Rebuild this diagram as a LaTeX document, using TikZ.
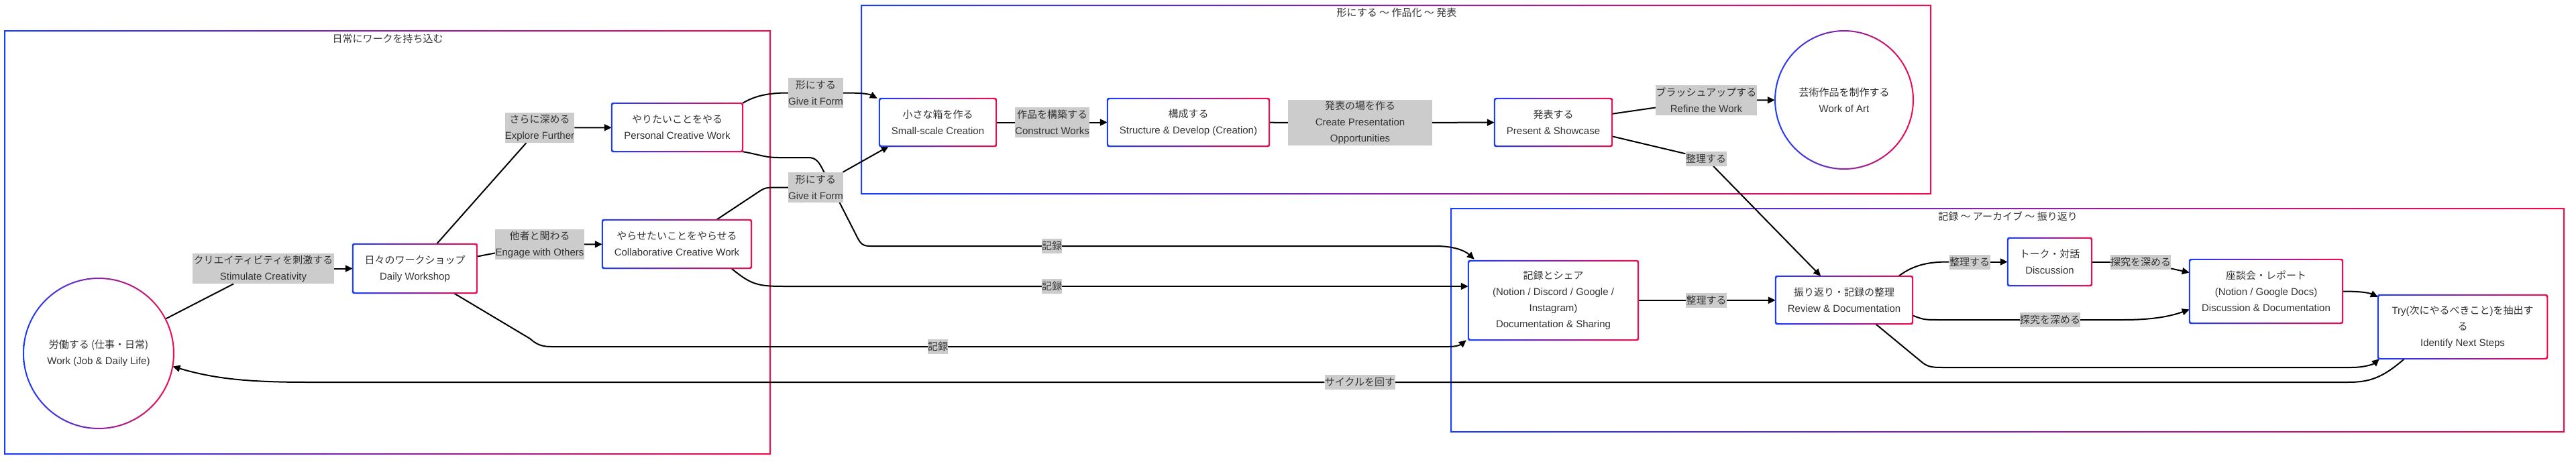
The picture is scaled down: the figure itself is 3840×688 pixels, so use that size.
\documentclass[tikz,border=0pt]{standalone}
\usepackage{fontspec}
\setmainfont{Liberation Sans}
\newfontfamily\jpfont{Noto Sans CJK JP}
\usetikzlibrary{arrows.meta,shadows}
\pgfdeclarelayer{back}
\pgfdeclarelayer{edges}
\pgfsetlayers{back,edges,main}
\definecolor{cblue}{RGB}{25,60,255}
\definecolor{cred}{RGB}{245,10,75}
\definecolor{lblgray}{RGB}{204,204,204}
\definecolor{txt}{RGB}{51,51,51}
\newcommand\J[1]{{\jpfont #1}}
\tikzset{
  base/.style={font=\fontsize{15}{24}\selectfont, text=txt, align=center, inner sep=0pt},
  box/.style={base, rectangle, rounded corners=3pt, fill=white, draw=none,
    drop shadow={shadow xshift=0pt, shadow yshift=-2pt, opacity=0.12}},
  circ/.style={base, circle, fill=white, draw=none,
    drop shadow={shadow xshift=0pt, shadow yshift=-2pt, opacity=0.12}},
  lbl/.style={base, rectangle, fill=lblgray},
  ttl/.style={base, text=txt},
  ln/.style={draw=black, line width=2pt},
  arr/.style={ln, -{Triangle[length=11pt,width=10pt]}},
  ring/.style={left color=cblue, right color=cred, even odd rule}
}
\begin{document}
\begin{tikzpicture}[x=1pt,y=-1pt]
\useasboundingbox (0,0) rectangle (3840,688);

% clusters
\begin{pgfonlayer}{back}
\shade[ring] (6,45) rectangle (1149,678) (8,47) rectangle (1147,676);
\shade[ring] (1283,7) rectangle (2879,290) (1285,9) rectangle (2877,288);
\shade[ring] (2162,310) rectangle (3823,645) (2164,312) rectangle (3821,643);
\end{pgfonlayer}
\node[ttl] (t1) at (578,58) {\J{日常にワークを持ち込む}};
\node[ttl] (t2) at (2082,19) {\J{形にする ～ 作品化 ～ 発表}};
\node[ttl] (t3) at (2993,323) {\J{記録 ～ アーカイブ ～ 振り返り}};

% nodes
\node[circ, minimum size=224pt] (work) at (147,527) {\J{労働する (仕事・日常)}\\Work (Job \& Daily Life)};
\node[box, minimum width=185pt, minimum height=73pt] (daily) at (618.5,400.5) {\J{日々のワークショップ}\\Daily Workshop};
\node[box, minimum width=195pt, minimum height=72pt] (personal) at (1009.5,190) {\J{やりたいことをやる}\\Personal Creative Work};
\node[box, minimum width=222pt, minimum height=72pt] (collab) at (1009,364) {\J{やらせたいことをやらせる}\\Collaborative Creative Work};
\node[box, minimum width=174pt, minimum height=71pt] (small) at (1398,182.5) {\J{小さな箱を作る}\\Small-scale Creation};
\node[box, minimum width=241pt, minimum height=71pt] (structure) at (1771.5,182.5) {\J{構成する}\\Structure \& Develop (Creation)};
\node[box, minimum width=175pt, minimum height=71pt] (present) at (2315.5,182.5) {\J{発表する}\\Present \& Showcase};
\node[circ, minimum size=206pt] (art) at (2749,149) {\J{芸術作品を制作する}\\Work of Art};
\node[box, minimum width=253pt, minimum height=118pt] (doc) at (2315.5,448) {\J{記録とシェア}\\(Notion / Discord / Google /\\Instagram)\\Documentation \& Sharing};
\node[box, minimum width=204pt, minimum height=71pt] (review) at (2749,447.5) {\J{振り返り・記録の整理}\\Review \& Documentation};
\node[box, minimum width=125pt, minimum height=71pt] (disc) at (3055.5,390.5) {\J{トーク・対話}\\Discussion};
\node[box, minimum width=228pt, minimum height=95pt] (dd) at (3378,434.5) {\J{座談会・レポート}\\(Notion / Google Docs)\\Discussion \& Documentation};
\node[box, minimum width=252pt, minimum height=95pt] (nextstep) at (3671,487.5) {Try(\J{次にやるべきこと})\J{を抽出す}\\\J{る}\\Identify Next Steps};

% gradient borders
\foreach \n in {daily,personal,collab,small,structure,present,doc,review,disc,dd,nextstep} {
  \shade[ring, rounded corners=3pt]
    ([shift={(-1pt,1pt)}]\n.north west) rectangle ([shift={(1pt,-1pt)}]\n.south east)
    ([shift={(1pt,-1pt)}]\n.north west) rectangle ([shift={(-1pt,1pt)}]\n.south east);
}
\shade[ring] (work.center) circle[radius=113pt] (work.center) circle[radius=111pt];
\shade[ring] (art.center) circle[radius=104pt] (art.center) circle[radius=102pt];

% edge labels
\node[lbl, minimum width=211pt, minimum height=45pt] (stim) at (392.5,400.5) {\J{クリエイティビティを刺激する}\\Stimulate Creativity};
\node[lbl, minimum width=103pt, minimum height=45pt] (explore) at (804.5,190.5) {\J{さらに深める}\\Explore Further};
\node[lbl, minimum width=133pt, minimum height=45pt] (engage) at (804.5,364.5) {\J{他者と関わる}\\Engage with Others};
\node[lbl, minimum width=82pt, minimum height=45pt] (gf1) at (1216,138.5) {\J{形にする}\\Give it Form};
\node[lbl, minimum width=82pt, minimum height=45pt] (gf2) at (1216,279.5) {\J{形にする}\\Give it Form};
\node[lbl, minimum width=111pt, minimum height=45pt] (construct) at (1568.5,182.5) {\J{作品を構築する}\\Construct Works};
\node[lbl, minimum width=215pt, minimum height=68pt] (cpo) at (2027.5,183) {\J{発表の場を作る}\\Create Presentation\\Opportunities};
\node[lbl, minimum width=151pt, minimum height=45pt] (refine) at (2543.5,149.5) {\J{ブラッシュアップする}\\Refine the Work};
\node[lbl, minimum width=61pt, minimum height=22pt] (org1) at (2543,236.5) {\J{整理する}};
\node[lbl, minimum width=61pt, minimum height=22pt] (org2) at (2543.5,448) {\J{整理する}};
\node[lbl, minimum width=61pt, minimum height=22pt] (org3) at (2936,390.5) {\J{整理する}};
\node[lbl, minimum width=90pt, minimum height=22pt] (deep1) at (3191,390.5) {\J{探究を深める}};
\node[lbl, minimum width=90pt, minimum height=22pt] (deep2) at (3056,477) {\J{探究を深める}};
\node[lbl, minimum width=30pt, minimum height=22pt] (rec1) at (1568,367) {\J{記録}};
\node[lbl, minimum width=30pt, minimum height=22pt] (rec2) at (1568,427) {\J{記録}};
\node[lbl, minimum width=30pt, minimum height=22pt] (rec3) at (1398,517) {\J{記録}};
\node[lbl, minimum width=105pt, minimum height=22pt] (cycle) at (2027,570) {\J{サイクルを回す}};

% edges
\begin{pgfonlayer}{edges}
\draw[ln] (work) -- (stim);
\draw[arr] (stim) -- (daily);
\draw[ln] (daily) -- (explore);
\draw[arr] (explore) -- (personal);
\draw[ln] (daily) -- (engage);
\draw[arr] (engage) -- (collab);
% personal -> small
\draw[ln] (personal.north east) .. controls (1125,143) and (1145,138.5) .. (gf1.west);
\draw[arr] (gf1.east) .. controls (1285,138.5) and (1295,140) .. ([xshift=-3pt]small.north west);
% personal -> doc
\draw[ln] (personal.south east) .. controls (1130,230) and (1140,235) .. (1160,235) -- (1205,235)
  .. controls (1215,235) and (1220,240) .. (1226,252) -- (1279,356)
  .. controls (1284,365) and (1288,367) .. (1298,367) -- (rec1);
\draw[arr] (rec1) -- (2140,367) .. controls (2170,367) and (2185,375) .. ([xshift=9pt,yshift=2pt]doc.north west);
% collab -> small
\draw[ln] ([xshift=59pt]collab.north) -- (1128,288) .. controls (1140,280) .. (1155,279.5) -- (gf2.west);
\draw[arr] (gf2) -- ([xshift=14pt]small.south west);
% collab -> doc
\draw[ln] ([xshift=-30pt]collab.south east) .. controls (1120,425) and (1130,427) .. (1170,427) -- (rec2);
\draw[arr] (rec2) -- (doc.west |- rec2);
% daily -> doc
\draw[ln] ([xshift=58pt]daily.south) -- (790,505) .. controls (800,514) and (808,517) .. (822,517) -- (rec3);
\draw[arr] (rec3) -- (2160,517) .. controls (2175,517) and (2180,512) .. ([xshift=-3pt]doc.south west);
% middle chain
\draw[ln] (small) -- (construct);
\draw[arr] (construct) -- (structure);
\draw[ln] (structure) -- (cpo);
\draw[arr] (cpo) -- (present);
\draw[ln] (present) -- (refine);
\draw[arr] (refine) -- (art);
\draw[ln] (present) -- (org1);
\draw[arr] (org1) -- (review);
% bottom chain
\draw[ln] (doc) -- (org2);
\draw[arr] (org2) -- (review);
\draw[ln] ([xshift=-21pt]review.north east) .. controls (2855,393) and (2880,390.5) .. (org3.west);
\draw[arr] (org3) -- (disc);
\draw[ln] (disc) -- (deep1);
\draw[arr] (deep1) -- ([yshift=28pt]dd.west);
\draw[ln] ([yshift=-23pt]review.east) .. controls (2868,477) .. (2895,477) -- (deep2);
\draw[arr] (deep2) -- (3165,477) .. controls (3215,477) and (3240,470) .. ([yshift=-27pt]dd.west);
\draw[arr] (dd.east) .. controls (3522,434.5) and (3532,437) .. ([yshift=-3pt]nextstep.north west);
\draw[arr] ([xshift=47pt]review.south) -- (2866,541) .. controls (2874,547) and (2880,548) .. (2895,548)
  -- (3505,548) .. controls (3525,548) and (3538,543) .. ([xshift=2pt]nextstep.south west);
% cycle back
\draw[ln] ([xshift=-87pt]nextstep.south) .. controls (3550,565) and (3530,570) .. (3500,570) -- (cycle);
\draw[arr] (cycle) -- (460,570) .. controls (370,570) and (320,565) .. (work.-10);
\end{pgfonlayer}
\end{tikzpicture}
\end{document}
